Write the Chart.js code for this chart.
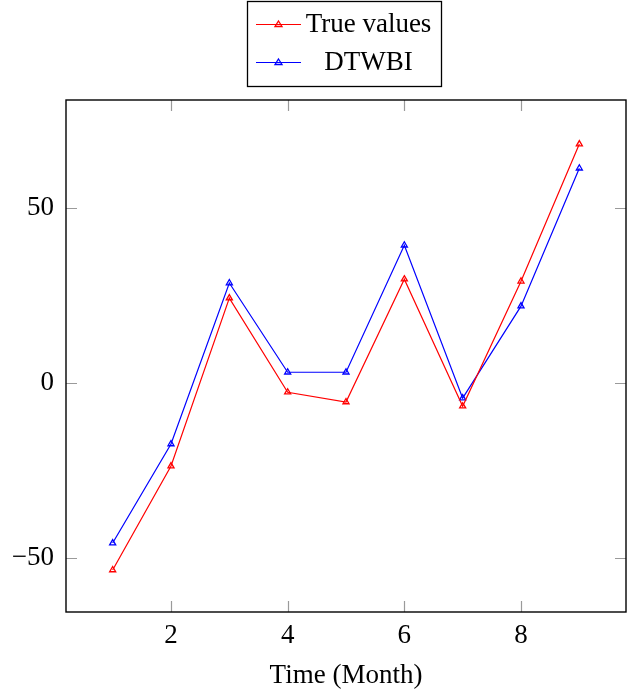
<!DOCTYPE html>
<html>
<head>
<meta charset="utf-8">
<script src="https://cdn.jsdelivr.net/npm/chart.js@4"></script>
<style>
  html, body { margin: 0; padding: 0; background: #fff; }
  #wrap { width: 637px; height: 696px; }
</style>
</head>
<body>
<div id="wrap"><canvas id="myChart" width="637" height="696"></canvas></div>
<script>
// data
var months = [1, 2, 3, 4, 5, 6, 7, 8, 9];
var trueValues = [-53.4, -23.7, 24.3, -2.6, -5.4, 29.7, -6.6, 29.1, 68.3];
var dtwbiValues = [-45.7, -17.4, 28.6, 3.1, 3.1, 39.4, -4.3, 22.0, 61.4];
var xTicks = [2, 4, 6, 8];
var yTicks = [-50, 0, 50];

var serif = "'Liberation Serif', 'DejaVu Serif', serif";
var fontSize = 27;

function toPoints(xs, ys) {
    return xs.map(function (x, i) { return { x: x, y: ys[i] }; });
}

// box, inward ticks on all four sides, boxed legend
var frame = {
    id: 'frame',
    afterDatasetsDraw: function (chart) {
        var ctx = chart.ctx;
        var a = chart.chartArea;
        var xs = chart.scales.x, ys = chart.scales.y;
        var len = 11;
        ctx.save();
        ctx.strokeStyle = '#9a9a9a';
        ctx.lineWidth = 1.2;
        ctx.beginPath();
        xTicks.forEach(function (t) {
            var px = Math.round(xs.getPixelForValue(t)) + 0.5;
            ctx.moveTo(px, a.bottom); ctx.lineTo(px, a.bottom - len);
            ctx.moveTo(px, a.top); ctx.lineTo(px, a.top + len);
        });
        yTicks.forEach(function (t) {
            var py = Math.round(ys.getPixelForValue(t)) + 0.5;
            ctx.moveTo(a.left, py); ctx.lineTo(a.left + len, py);
            ctx.moveTo(a.right, py); ctx.lineTo(a.right - len, py);
        });
        ctx.stroke();

        ctx.strokeStyle = '#000';
        ctx.lineWidth = 1.4;
        ctx.strokeRect(a.left, a.top, a.right - a.left, a.bottom - a.top);

        // legend
        var bx = 247.5, by = 1.5, bw = 194, bh = 85;
        ctx.fillStyle = '#fff';
        ctx.fillRect(bx, by, bw, bh);
        ctx.strokeStyle = '#000';
        ctx.lineWidth = 1.3;
        ctx.strokeRect(bx, by, bw, bh);
        var rows = [24, 62];
        chart.data.datasets.forEach(function (ds, i) {
            var y = rows[i];
            ctx.strokeStyle = ds.borderColor;
            ctx.lineWidth = 1.2;
            ctx.beginPath();
            ctx.moveTo(256, y + 0.5); ctx.lineTo(301, y + 0.5);
            ctx.stroke();
            ctx.lineWidth = 1.3;
            ctx.beginPath();
            ctx.moveTo(278.5, y - 3); ctx.lineTo(282, y + 2.5); ctx.lineTo(275, y + 2.5); ctx.closePath();
            ctx.stroke();
            ctx.fillStyle = '#000';
            ctx.font = fontSize + 'px ' + serif;
            ctx.textAlign = 'center';
            ctx.textBaseline = 'middle';
            ctx.fillText(ds.label, 368.5, y + 1);
        });
        ctx.restore();
    }
};

new Chart('myChart', {
    type: 'line',
    data: {
        datasets: [{
            label: 'True values',
            data: toPoints(months, trueValues),
            borderColor: '#ff0000',
            backgroundColor: 'rgba(0,0,0,0)',
            borderWidth: 1.2,
            pointStyle: 'triangle',
            pointRadius: 3.5,
            pointBorderWidth: 1.3,
            tension: 0
        }, {
            label: 'DTWBI',
            data: toPoints(months, dtwbiValues),
            borderColor: '#0000ff',
            backgroundColor: 'rgba(0,0,0,0)',
            borderWidth: 1.2,
            pointStyle: 'triangle',
            pointRadius: 3.5,
            pointBorderWidth: 1.3,
            tension: 0
        }]
    },
    options: {
        responsive: false,
        animation: false,
        layout: { padding: { left: 0, right: 11, top: 100, bottom: 0 } },
        plugins: {
            legend: { display: false },
            tooltip: { enabled: false }
        },
        scales: {
            x: {
                type: 'linear',
                min: 0.2,
                max: 9.8,
                grid: { display: false, drawTicks: false },
                border: { display: false },
                afterBuildTicks: function (s) { s.ticks = xTicks.map(function (v) { return { value: v }; }); },
                afterFit: function (s) { s.height = 84; },
                ticks: {
                    padding: 8,
                    color: '#000',
                    font: { family: serif, size: fontSize }
                },
                title: {
                    display: true,
                    text: 'Time (Month)',
                    color: '#000',
                    font: { family: serif, size: fontSize },
                    padding: { top: 4, bottom: 4 }
                }
            },
            y: {
                min: -65.4,
                max: 80.9,
                grid: { display: false, drawTicks: false },
                border: { display: false },
                afterBuildTicks: function (s) { s.ticks = yTicks.map(function (v) { return { value: v }; }); },
                afterFit: function (s) { s.width = 66; },
                ticks: {
                    padding: 12,
                    color: '#000',
                    font: { family: serif, size: fontSize },
                    callback: function (v) { return String(v).replace('-', '\u2212'); }
                }
            }
        }
    },
    plugins: [frame]
});
</script>
</body>
</html>
